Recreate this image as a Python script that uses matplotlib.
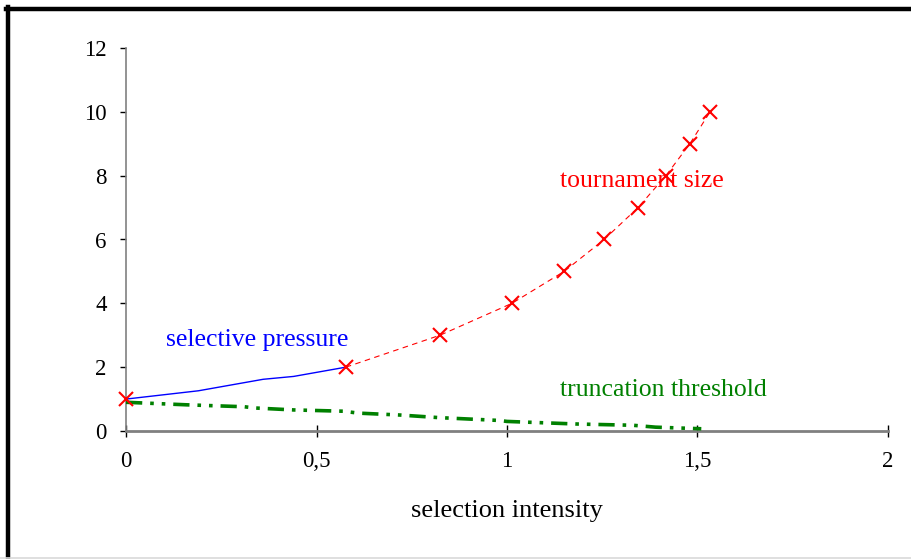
import matplotlib
matplotlib.use("Agg")
import matplotlib.pyplot as plt
from matplotlib.lines import Line2D

# Data
tour_x = [0.0, 0.577, 0.824, 1.013, 1.150, 1.255, 1.344, 1.417, 1.480, 1.533]
tour_y = [1, 2, 3, 4, 5, 6, 7, 8, 9, 10]

press_x = [0.0, 0.19, 0.36, 0.44, 0.577]
press_y = [1.0, 1.26, 1.62, 1.71, 2.0]

trunc_x = [0.0, 0.16, 0.31, 0.34, 0.44, 0.57, 0.61, 0.72, 0.82, 0.98, 1.0, 1.18, 1.33, 1.39, 1.51]
trunc_y = [0.9, 0.82, 0.76, 0.72, 0.66, 0.62, 0.56, 0.5, 0.42, 0.33, 0.3, 0.22, 0.18, 0.12, 0.07]

x_ticks = [0, 0.5, 1, 1.5, 2]
x_labels = ["0", "0,5", "1", "1,5", "2"]
y_ticks = [0, 2, 4, 6, 8, 10, 12]
y_labels = ["0", "2", "4", "6", "8", "10", "12"]

plt.rcParams['font.family'] = ['Liberation Serif', 'DejaVu Serif']

fig = plt.figure(figsize=(9.12, 5.59), dpi=100)
ax = fig.add_axes([126/912, 128/559, 762/912, 383/559])

ax.plot(press_x, press_y, color='#0000ff', lw=1.0, zorder=3)
ax.plot(trunc_x, trunc_y, color='#008000', lw=2.6,
        dashes=(4.5, 2.2, 1, 2.2, 1, 2.2), zorder=3)
# the dashed tournament line is only visible from the second point on
ax.plot(tour_x[1:], tour_y[1:], color='#ff0000', lw=0.8, dashes=(5, 4), zorder=3)
ax.plot(tour_x, tour_y, linestyle='none', marker='x', color='#ff0000',
        markersize=10, mew=1.5, zorder=4, clip_on=False)

ax.set_xlim(0, 2)
ax.set_ylim(0, 12)
ax.set_xticks(x_ticks)
ax.set_xticklabels(x_labels)
ax.set_yticks(y_ticks)
ax.set_yticklabels(y_labels)

for s in ['top', 'right']:
    ax.spines[s].set_visible(False)
ax.spines['left'].set_color('#808080')
ax.spines['left'].set_linewidth(1.2)
ax.spines['bottom'].set_color('#808080')
ax.spines['bottom'].set_linewidth(2.0)

ax.tick_params(axis='x', direction='inout', length=9, width=1, color='black',
               labelsize=16.5, pad=10)
ax.tick_params(axis='y', direction='out', length=4, width=1, color='black',
               labelsize=16.5, pad=10)

ax.set_xlabel('selection intensity', fontsize=19, labelpad=20)

ax.text(0.105, 2.85, 'selective pressure', color='#0000ff', fontsize=18.5,
        ha='left', va='center')
ax.text(1.139, 7.84, 'tournament size', color='#ff0000', fontsize=18.5,
        ha='left', va='center')
ax.text(1.139, 1.29, 'truncation threshold', color='#008000', fontsize=18.5,
        ha='left', va='center')

# outer frame
fig.add_artist(Line2D([8/912, 8/912], [0, 1 - 7/559], transform=fig.transFigure,
                      color='black', lw=3.2))
fig.add_artist(Line2D([6/912, 1], [1 - 9/559, 1 - 9/559], transform=fig.transFigure,
                      color='black', lw=3.2))
fig.add_artist(Line2D([0, 1], [1.5/559, 1.5/559], transform=fig.transFigure,
                      color='#d9d9d9', lw=1.2))

fig.savefig('out.png', dpi=100)
